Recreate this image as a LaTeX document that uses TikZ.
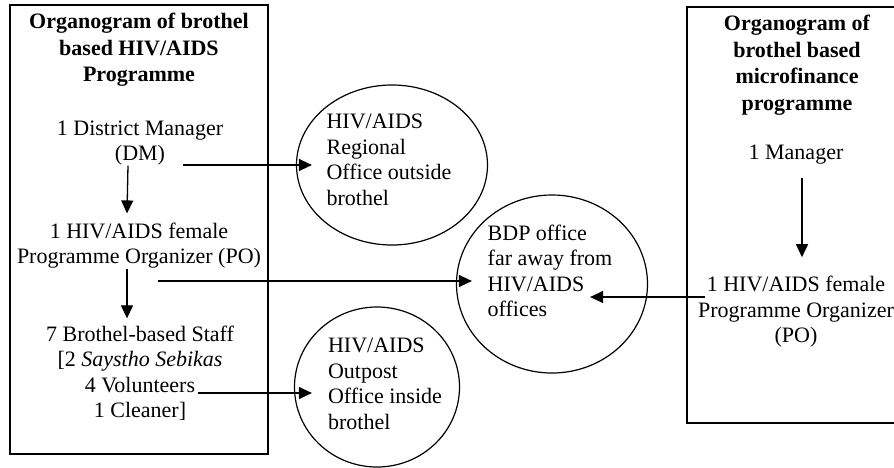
\documentclass[tikz,border=0pt]{standalone}
\usepackage{fontspec}
\setmainfont{Liberation Serif}
\usetikzlibrary{arrows.meta,calc,shapes.geometric}
\begin{document}
\begin{tikzpicture}[x=1pt,y=-1pt,
  txt/.style={inner sep=0pt,align=center,font=\fontsize{22}{25.5}\selectfont},
  ltxt/.style={inner sep=0pt,align=left,font=\fontsize{22}{25.5}\selectfont},
  ttl/.style={inner sep=0pt,align=center,font=\fontsize{22}{26.5}\selectfont\bfseries},
  frame/.style={draw,line width=1.4pt},
  oval/.style={draw,ellipse,line width=1.2pt,inner sep=0pt},
  arr/.style={line width=1.3pt,-{Triangle[length=13pt,width=12pt]}}]
\useasboundingbox (0,0) rectangle (894,467);
\clip (0,0) rectangle (894,467);
\fill[white] (0,0) rectangle (894,467);
% boxes
\draw[frame] (10,5) rectangle (268,454);
\draw[frame] (687,7) rectangle (910,423);
% left box texts
\node[ttl] (titleL) at (139,50) {Organogram of brothel\\based HIV/AIDS\\Programme};
\node[txt] (dmL) at (140,143) {1 District Manager\\(DM)};
\node[txt] (poL) at (139,245.5) {1 HIV/AIDS female\\Programme Organizer (PO)};
\node[txt] (staffL) at (140,373) {7 Brothel-based Staff\\{}[2 \textit{Saystho Sebikas}\\4 Volunteers\\1 Cleaner]};
% right box texts
\node[ttl] (titleR) at (797,65) {Organogram of\\brothel based\\microfinance\\programme};
\node[txt] (mgrR) at (796,155) {1 Manager};
\node[txt] (poR) at (796,312) {1 HIV/AIDS female\\Programme Organizer\\(PO)};
% ellipses
\node[oval,minimum width=191pt,minimum height=160pt] (regional) at (392,165) {};
\node[oval,minimum width=191pt,minimum height=178pt] (bdp) at (552,284) {};
\node[oval,minimum width=165pt,minimum height=160pt] (outpost) at (377,387) {};
\node[ltxt] (regionalT) at (389,160) {HIV/AIDS\\Regional\\Office outside\\brothel};
\node[ltxt] (bdpT) at (550,271) {BDP office\\far away from\\HIV/AIDS\\offices};
\node[ltxt] (outpostT) at (385,384) {HIV/AIDS\\Outpost\\Office inside\\brothel};
% free starting points of horizontal connectors
\coordinate (dmOut) at (183,165);
\coordinate (poOut) at (158,281);
\coordinate (volOut) at (198,393);
\coordinate (poROut) at (705,297);
% vertical connectors
\draw[arr] ([xshift=-12pt]dmL.south) -- ([xshift=-12pt,yshift=9pt]poL.north);
\draw[arr] ([xshift=-12pt]poL.south) -- ([xshift=-13pt,yshift=7pt]staffL.north);
\draw[arr] ([xshift=6pt,yshift=-13pt]mgrR.south) -- ([xshift=6pt,yshift=19pt]poR.north);
% horizontal connectors
\draw[arr] (dmOut) -- ($(dmOut -| regional.west)+(16,0)$);
\draw[arr] (poOut) -- ($(poOut -| bdp.west)+(16,0)$);
\draw[arr] (volOut) -- ($(volOut -| outpost.west)+(18,0)$);
\draw[arr] (poROut) -- ($(poROut -| bdp.east)+(-58,0)$);
\end{tikzpicture}
\end{document}
